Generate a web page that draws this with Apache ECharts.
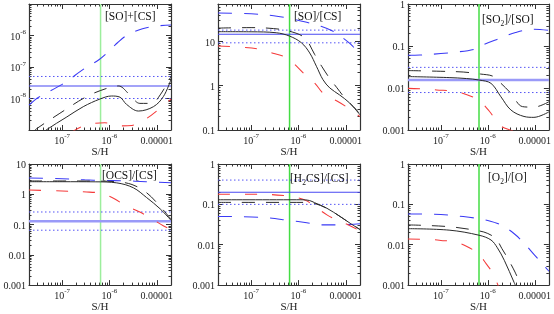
<!DOCTYPE html>
<html><head><meta charset="utf-8">
<script src="https://cdn.jsdelivr.net/npm/echarts@6/dist/echarts.min.js"></script>
<style>html,body{margin:0;padding:0;background:#fff}#c{width:554px;height:314px}</style>
</head><body><div id="c"></div>
<script>
// ---------- data ----------
const X_MIN = 2e-8, X_MAX = 2e-5;
const GREEN_X = 6.5e-7;
const xTickValues = [1e-7, 1e-6, 1e-5];

// Panel 1: [SO]+[CS]
const p1Range = [1e-9, 1e-5];
const p1Labels = [1e-8, 1e-7, 1e-6];
const p1Solid = [[3.5e-8,7e-10],[4.6e-8,1e-9],[1.26e-7,2.6e-9],[2.8e-7,5.5e-9],[6.3e-7,9.6e-9],[1.1e-6,1.2e-8],[1.67e-6,1.1e-8],[2.3e-6,6.5e-9],[4.1e-6,4e-9],[8.5e-6,5.5e-9],[1.38e-5,1.15e-8],[2e-5,4e-8]];
const p1Dashed = [[2.5e-8,9e-10],[2.9e-8,1.1e-9],[9e-8,3.4e-9],[3.3e-7,1.15e-8],[8.8e-7,2.1e-8],[1.55e-6,2.5e-8],[2.7e-6,1.3e-8],[4.4e-6,7e-9],[7.8e-6,7e-9],[1.18e-5,1.3e-8],[2e-5,5e-8]];
const p1Red = [[1.5e-7,8e-10],[2.1e-7,1.1e-9],[3.6e-7,1.5e-9],[8e-7,1.7e-9],[1.7e-6,1.35e-9],[3e-6,1.4e-9],[5e-6,1.9e-9],[1.2e-5,5e-9],[2e-5,9.5e-9]];
const p1Blue = [[2e-8,6.2e-9],[3.2e-8,1.1e-8],[1e-7,2.8e-8],[3e-7,9e-8],[6e-7,1.7e-7],[1e-6,3.3e-7],[1.5e-6,6e-7],[2.3e-6,1e-6],[5e-6,1.65e-6],[1e-5,2e-6],[2e-5,2.15e-6]];
const p1Obs = [2.5e-8, 1e-8, 5e-8];

// Panel 2: [SO]/[CS]
const p2Range = [0.1, 70];
const p2Labels = [0.1, 1, 10];
const p2Solid = [[2e-8,16.6],[1e-7,16.5],[3.4e-7,15.7],[6.5e-7,13.2],[1.16e-6,9.3],[1.73e-6,5.5],[2.4e-6,2.75],[3.3e-6,1.37],[4.6e-6,0.89],[7.4e-6,0.62],[1.2e-5,0.41],[2e-5,0.22]];
const p2Dashed = [[2e-8,20],[1e-7,20.5],[3e-7,19.5],[6.5e-7,17],[1.36e-6,12],[2.2e-6,5.1],[3.1e-6,2.75],[4.5e-6,1.5],[6.5e-6,0.9],[1e-5,0.5],[1.66e-5,0.29],[2e-5,0.22]];
const p2Red = [[2e-8,7.9],[6e-8,7.4],[1.4e-7,6.8],[2.5e-7,5.7],[5.6e-7,4.3],[8.4e-7,3.0],[1.36e-6,1.8],[2.2e-6,1.15],[3.6e-6,0.62],[6.8e-6,0.44],[1.2e-5,0.3],[2e-5,0.2]];
const p2Blue = [[2e-8,44],[1e-7,42],[3e-7,38],[6.5e-7,33],[1.5e-6,27],[3e-6,22],[5.4e-6,17],[8.7e-6,12],[1.4e-5,7.8],[2e-5,4.6]];
const p2Obs = [14.5, 9.3, 18];

// Panel 3: [SO2]/[SO]
const p3Range = [0.001, 1];
const p3Labels = [0.001, 0.01, 0.1, 1];
const p3Solid = [[2e-8,0.0187],[1.5e-7,0.0177],[3.5e-7,0.0168],[6.5e-7,0.0155],[1.17e-6,0.0129],[1.9e-6,0.0062],[3.1e-6,0.003],[5.9e-6,0.0021],[9.6e-6,0.002],[2e-5,0.0027]];
const p3Dashed = [[2e-8,0.026],[1e-7,0.025],[3e-7,0.024],[7e-7,0.0215],[1.3e-6,0.019],[1.9e-6,0.013],[3.1e-6,0.0075],[5.5e-6,0.0036],[9.6e-6,0.0035],[2e-5,0.0047]];
const p3Red = [[2e-8,0.0098],[5e-8,0.0095],[8.1e-8,0.009],[1.8e-7,0.0085],[2.9e-7,0.0075],[4.5e-7,0.0063],[6.4e-7,0.0052],[1.08e-6,0.0028],[1.5e-6,0.0017],[2e-6,0.0012],[3.2e-6,0.00098],[5e-6,0.0008]];
const p3Blue = [[2e-8,0.06],[3.6e-8,0.061],[1e-7,0.066],[2e-7,0.071],[5.2e-7,0.084],[8.5e-7,0.11],[1.75e-6,0.15],[3.9e-6,0.21],[8.9e-6,0.25],[2e-5,0.235]];
const p3Obs = [0.0155, 0.0078, 0.031];

// Panel 4: [OCS]/[CS]
const p4Range = [0.001, 10];
const p4Labels = [0.001, 0.01, 0.1, 1, 10];
const p4Solid = [[2e-8,2.6],[1e-7,2.6],[5e-7,2.58],[1.43e-6,2.38],[3.2e-6,1.64],[6.1e-6,0.78],[1.18e-5,0.33],[2e-5,0.138]];
const p4Dashed = [[2e-8,2.75],[1e-7,2.75],[5e-7,2.72],[1.4e-6,2.6],[3e-6,2.1],[6e-6,1.15],[1.1e-5,0.45],[2e-5,0.15]];
const p4Red = [[2e-8,1.38],[1e-7,1.28],[3.3e-7,1.19],[6e-7,1.12],[8e-7,1.0],[1.3e-6,0.7],[2.2e-6,0.42],[4.4e-6,0.26],[7.8e-6,0.156],[1.4e-5,0.09],[2e-5,0.07]];
const p4Blue = [[2e-8,3.45],[1e-7,3.25],[3e-7,3.0],[7e-7,2.85],[2e-6,2.8],[6e-6,2.6],[2e-5,2.4]];
const p4Obs = [0.128, 0.065, 0.26];

// Panel 5: [H2CS]/[CS]
const p5Range = [0.001, 1];
const p5Labels = [0.001, 0.01, 0.1, 1];
const p5Solid = [[2e-8,0.13],[1.2e-6,0.13],[1.7e-6,0.125],[2.2e-6,0.11],[4e-6,0.08],[7.6e-6,0.05],[1.24e-5,0.034],[2e-5,0.0236]];
const p5Dashed = [[2e-8,0.112],[1.3e-6,0.112],[2.2e-6,0.105],[4e-6,0.08],[7.6e-6,0.05],[1.24e-5,0.034],[2e-5,0.024]];
const p5Red = [[2e-8,0.178],[1.5e-7,0.178],[5e-7,0.165],[1e-6,0.145],[1.5e-6,0.122],[2.2e-6,0.09],[4e-6,0.055],[6.4e-6,0.041],[1.2e-5,0.03],[2e-5,0.022]];
const p5Blue = [[2e-8,0.05],[1.5e-7,0.048],[6.5e-7,0.04],[1.5e-6,0.035],[3e-6,0.031],[7e-6,0.031],[2e-5,0.033]];
const p5Obs = [0.2, 0.1, 0.4];

// Panel 6: [O2]/[O]
const p6Range = [0.001, 1];
const p6Labels = [0.001, 0.01, 0.1, 1];
const p6Solid = [[2e-8,0.025],[1.5e-7,0.023],[6.5e-7,0.0172],[1.17e-6,0.0131],[1.6e-6,0.0084],[2.25e-6,0.0041],[3.65e-6,0.00115],[4.2e-6,0.0008]];
const p6Dashed = [[2e-8,0.031],[1.5e-7,0.028],[6.5e-7,0.022],[1e-6,0.019],[1.5e-6,0.014],[2e-6,0.008],[2.6e-6,0.0048],[3.8e-6,0.0021],[5e-6,0.001]];
const p6Red = [[2e-8,0.0138],[6e-8,0.0136],[1e-7,0.0128],[2e-7,0.0118],[3.5e-7,0.0092],[6.3e-7,0.006],[9.2e-7,0.0034],[1.27e-6,0.002],[1.7e-6,0.0009]];
const p6Blue = [[2e-8,0.058],[6e-8,0.057],[1.5e-7,0.054],[3e-7,0.05],[5.2e-7,0.046],[1e-6,0.04],[1.9e-6,0.031],[3.6e-6,0.019],[5.9e-6,0.011],[9.6e-6,0.0058],[1.55e-5,0.0031],[2e-5,0.0022]];
const p6Obs = null;

const titles = ['[SO]+[CS]', '[SO]/[CS]', '[SO{s|2}]/[SO]', '[OCS]/[CS]', '[H{s|2}CS]/[CS]', '[O{s|2}]/[O]'];

// ---------- layout / style ----------
const FONT = 'Liberation Serif';
const AX = '#333';
const grids = [
  {left:29, top:4, width:142, height:126}, {left:218, top:4, width:142, height:126}, {left:408, top:4, width:142, height:126},
  {left:29, top:164, width:142, height:124}, {left:218, top:164, width:142, height:124}, {left:408, top:164, width:142, height:124}
];
const titlePos = [[105,11],[294,11],[482,12],[102,170],[290,171],[488,170]];
const thickObs = [false,false,true,true,false,false];
const greenCol = ['#9cee9c','#44dd44','#44dd44','#9cee9c','#44dd44','#44dd44'];

const panels = [
  {range:p1Range, labels:p1Labels, exp:true, solid:p1Solid, dashed:p1Dashed, red:p1Red, blue:p1Blue, obs:p1Obs},
  {range:p2Range, labels:p2Labels, solid:p2Solid, dashed:p2Dashed, red:p2Red, blue:p2Blue, obs:p2Obs},
  {range:p3Range, labels:p3Labels, solid:p3Solid, dashed:p3Dashed, red:p3Red, blue:p3Blue, obs:p3Obs},
  {range:p4Range, labels:p4Labels, solid:p4Solid, dashed:p4Dashed, red:p4Red, blue:p4Blue, obs:p4Obs},
  {range:p5Range, labels:p5Labels, solid:p5Solid, dashed:p5Dashed, red:p5Red, blue:p5Blue, obs:p5Obs},
  {range:p6Range, labels:p6Labels, solid:p6Solid, dashed:p6Dashed, red:p6Red, blue:p6Blue, obs:p6Obs}
];

const rich = {
  n:{fontFamily:FONT, fontSize:10, color:'#222', lineHeight:13, verticalAlign:'bottom'},
  s:{fontFamily:FONT, fontSize:7, color:'#222', lineHeight:7, verticalAlign:'top'}
};
function expFmt(v){ const e = Math.round(Math.log10(v)); return '{n|10}{s|' + e + '}'; }
function xFmt(v){ const e = Math.round(Math.log10(v)); return e === -5 ? '{n|0.00001}' : expFmt(v); }
function decFmt(v){ return '{n|' + String(+(+v).toPrecision(3)) + '}'; }

function decades(min, max){ const out=[]; for(let d=Math.ceil(Math.log10(min)-1e-9); d<=Math.floor(Math.log10(max)+1e-9); d++) out.push(+Math.pow(10,d).toPrecision(6)); return out; }
function minors(min, max){ const out=[]; for(let d=Math.floor(Math.log10(min))-1; d<=Math.ceil(Math.log10(max)); d++){ for(let k=2;k<=9;k++){ const v=+(k*Math.pow(10,d)).toPrecision(6); if(v>min*1.0001 && v<max*0.9999) out.push(v);} } return out; }

const lineAx = {show:true, lineStyle:{color:AX, width:1.2}};
const tickStyle = {color:AX, width:1};
function axisSet(dim, gi, min, max, majorTicks, labelVals, fmt){
  const base = {type:'log', logBase:10, gridIndex:gi, min:min, max:max, splitLine:{show:false}, minorTick:{show:false}, axisPointer:{show:false}, silent:true};
  const posA = dim==='x' ? 'bottom' : 'left';
  const posB = dim==='x' ? 'top' : 'right';
  const mn = minors(min, max);
  const main = Object.assign({}, base, {
    position:posA, axisLine:lineAx,
    axisTick:{show:true, inside:true, length:5, customValues:majorTicks, lineStyle:tickStyle},
    axisLabel:{show:true, customValues:labelVals, formatter:fmt, rich:rich, margin:3, fontFamily:FONT, fontSize:10, color:'#222', showMinLabel:true, showMaxLabel:true, hideOverlap:false}
  });
  if (dim==='x') Object.assign(main, {name:'S/H', nameLocation:'middle', nameGap:13, nameTextStyle:{fontFamily:FONT, fontSize:11, color:'#222'}});
  return [
    main,
    Object.assign({}, base, {position:posA, axisLine:{show:false}, axisTick:{show:true, inside:true, length:2.5, customValues:mn, lineStyle:tickStyle}, axisLabel:{show:false}}),
    Object.assign({}, base, {position:posB, axisLine:lineAx, axisTick:{show:true, inside:true, length:5, customValues:majorTicks, lineStyle:tickStyle}, axisLabel:{show:false}}),
    Object.assign({}, base, {position:posB, axisLine:{show:false}, axisTick:{show:true, inside:true, length:2.5, customValues:mn, lineStyle:tickStyle}, axisLabel:{show:false}})
  ];
}

const xAxis = [], yAxis = [], series = [], title = [];
function ser(gi, data, color, width, type, smooth, z){
  return {type:'line', xAxisIndex:gi*4, yAxisIndex:gi*4, data:data, showSymbol:false, symbol:'none', smooth:smooth, clip:true, silent:true, animation:false, z:z,
          lineStyle:{color:color, width:width, type:type}};
}
panels.forEach((p, gi) => {
  xAxis.push(...axisSet('x', gi, X_MIN, X_MAX, xTickValues, xTickValues, xFmt));
  yAxis.push(...axisSet('y', gi, p.range[0], p.range[1], decades(p.range[0], p.range[1]), p.labels, p.exp ? expFmt : decFmt));
  series.push(ser(gi, [[GREEN_X, p.range[0]], [GREEN_X, p.range[1]]], greenCol[gi], 1.5, 'solid', false, 1));
  if (p.obs) {
    series.push(ser(gi, [[X_MIN, p.obs[0]], [X_MAX, p.obs[0]]], thickObs[gi] ? '#9a9af8' : '#4848f2', thickObs[gi] ? 2.6 : 1.1, 'solid', false, 2));
    series.push(ser(gi, [[X_MIN, p.obs[1]], [X_MAX, p.obs[1]]], '#5555f5', 1, [1.5, 2.5], false, 2));
    series.push(ser(gi, [[X_MIN, p.obs[2]], [X_MAX, p.obs[2]]], '#5555f5', 1, [1.5, 2.5], false, 2));
  }
  series.push(ser(gi, p.blue, '#3a3af5', 1.05, [14, 12], 0.35, 3));
  series.push(ser(gi, p.red, '#f53a3a', 1.05, [12, 15], 0.35, 3));
  series.push(ser(gi, p.dashed, '#2a2a2a', 1, [13, 11], 0.35, 4));
  series.push(ser(gi, p.solid, '#2a2a2a', 1, 'solid', 0.35, 4));
  title.push({text:titles[gi], left:titlePos[gi][0], top:titlePos[gi][1], padding:0, z:10,
    textStyle:{fontFamily:FONT, fontSize:11.5, fontWeight:'normal', color:'#111',
      rich:{s:{fontFamily:FONT, fontSize:7.5, color:'#111', verticalAlign:'bottom', lineHeight:16}}}});
});

const chart = echarts.init(document.getElementById('c'), null, {renderer:'canvas'});
chart.setOption({animation:false, backgroundColor:'#fff', grid:grids, xAxis:xAxis, yAxis:yAxis, series:series, title:title});
</script></body></html>
